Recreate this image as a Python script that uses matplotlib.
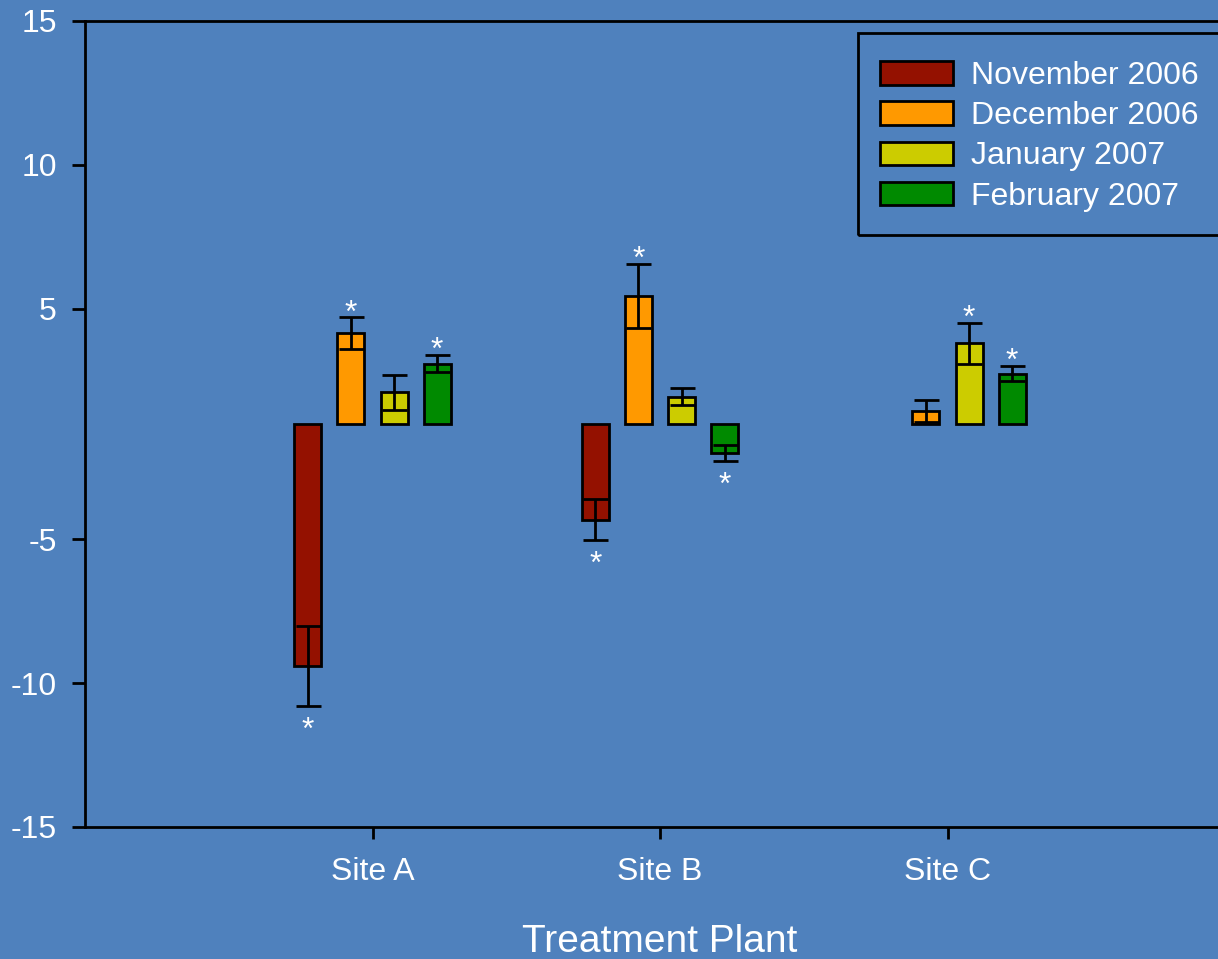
import numpy as np
import matplotlib
matplotlib.use('Agg')
import matplotlib.pyplot as plt
from matplotlib.patches import Rectangle
from matplotlib.ticker import FixedLocator

plt.rcParams['font.family'] = ['Liberation Sans', 'DejaVu Sans']

# Data: fold change (mean) and error per month, for sites A, B, C
sites = ['Site A', 'Site B', 'Site C']
months = ['November 2006', 'December 2006', 'January 2007', 'February 2007']
colors = ['#941100', '#ff9900', '#cccc00', '#008a00']

nov = [-9.4, -4.32, np.nan]
dec = [4.15, 5.45, 1.45]
jan = [2.1, 1.95, 3.8]
feb = [3.1, -2.0, 2.75]

nov_err = [1.4, 0.71, np.nan]
dec_err = [0.55, 1.12, 0.37]
jan_err = [0.6, 0.3, 0.7]
feb_err = [0.31, 0.28, 0.26]

# significance asterisks
nov_sig = [True, True, False]
dec_sig = [True, True, False]
jan_sig = [False, False, True]
feb_sig = [True, True, True]

yticks = [-15, -10, -5, 5, 10, 15]

bg = '#4f81bd'


# fold change axis: +1 and -1 meet at the baseline
def fwd(v):
    v = np.asarray(v, dtype=float)
    return np.where(v >= 0, v - 1, v + 1)


def inv(t):
    t = np.asarray(t, dtype=float)
    return np.where(t >= 0, t + 1, t - 1)


W, H = 1218, 959
fig = plt.figure(figsize=(W / 100, H / 100), dpi=100, facecolor=bg)
ax = fig.add_axes([85 / W, 1 - 827 / H, 1150 / W, 806 / H])
ax.set_facecolor(bg)
ax.set_yscale('function', functions=(fwd, inv))

x = np.arange(1, len(sites) + 1)
width = 0.094
step = 0.15

series = [(nov, nov_err, nov_sig), (dec, dec_err, dec_sig),
          (jan, jan_err, jan_sig), (feb, feb_err, feb_sig)]

for i, (vals, errs, sig) in enumerate(series):
    vals = np.array(vals, dtype=float)
    errs = np.array(errs, dtype=float)
    xs = x + (i - 1.5) * step
    base = np.sign(vals)
    ax.bar(xs, vals - base, bottom=base, width=width, color=colors[i],
           edgecolor='black', linewidth=2, label=months[i], zorder=2)
    ax.errorbar(xs, vals, yerr=errs, fmt='none', ecolor='black',
                elinewidth=2, capsize=9, capthick=2, zorder=3)
    for xi, v, e, s in zip(xs, vals, errs, sig):
        if not s:
            continue
        if v > 0:
            ax.annotate('*', (xi, v + e), xytext=(0, -4), textcoords='offset pixels',
                        ha='center', va='baseline', color='white', fontsize=23)
        else:
            ax.annotate('*', (xi, v - e), xytext=(0, -33), textcoords='offset pixels',
                        ha='center', va='baseline', color='white', fontsize=23)

ax.set_xlim(0, 4)
ax.set_ylim(-15, 15)
ax.yaxis.set_major_locator(FixedLocator(yticks))
ax.yaxis.set_minor_locator(FixedLocator([]))
ax.set_yticklabels([str(t) for t in yticks])
ax.set_xticks(x)
ax.set_xticklabels(sites)

for side in ['left', 'top', 'bottom']:
    ax.spines[side].set_color('black')
    ax.spines[side].set_linewidth(2)
ax.spines['right'].set_visible(False)

ax.tick_params(axis='y', length=9.4, width=2, pad=11, labelsize=23,
               color='black', labelcolor='white')
ax.tick_params(axis='x', length=8.6, width=2, pad=13, labelsize=23,
               color='black', labelcolor='white')
ax.set_xlabel('Treatment Plant', fontsize=28, color='white', labelpad=27)

# legend (frame drawn separately so the padding can differ per side)
leg = ax.legend(loc='upper left', bbox_to_anchor=(880 / W, 1 - 61 / H),
                bbox_transform=fig.transFigure, fontsize=23, frameon=False,
                borderaxespad=0, borderpad=0,
                handlelength=2.29, handleheight=0.75, handletextpad=0.55,
                labelspacing=0.32)
for t in leg.get_texts():
    t.set_color('white')
for p in leg.get_patches():
    p.set_linewidth(2)
fig.patches.append(Rectangle((858 / W, 1 - 235 / H), 400 / W, 202 / H,
                             transform=fig.transFigure, facecolor='none',
                             edgecolor='black', linewidth=2))

fig.savefig('out.png', dpi=100, facecolor=bg)
